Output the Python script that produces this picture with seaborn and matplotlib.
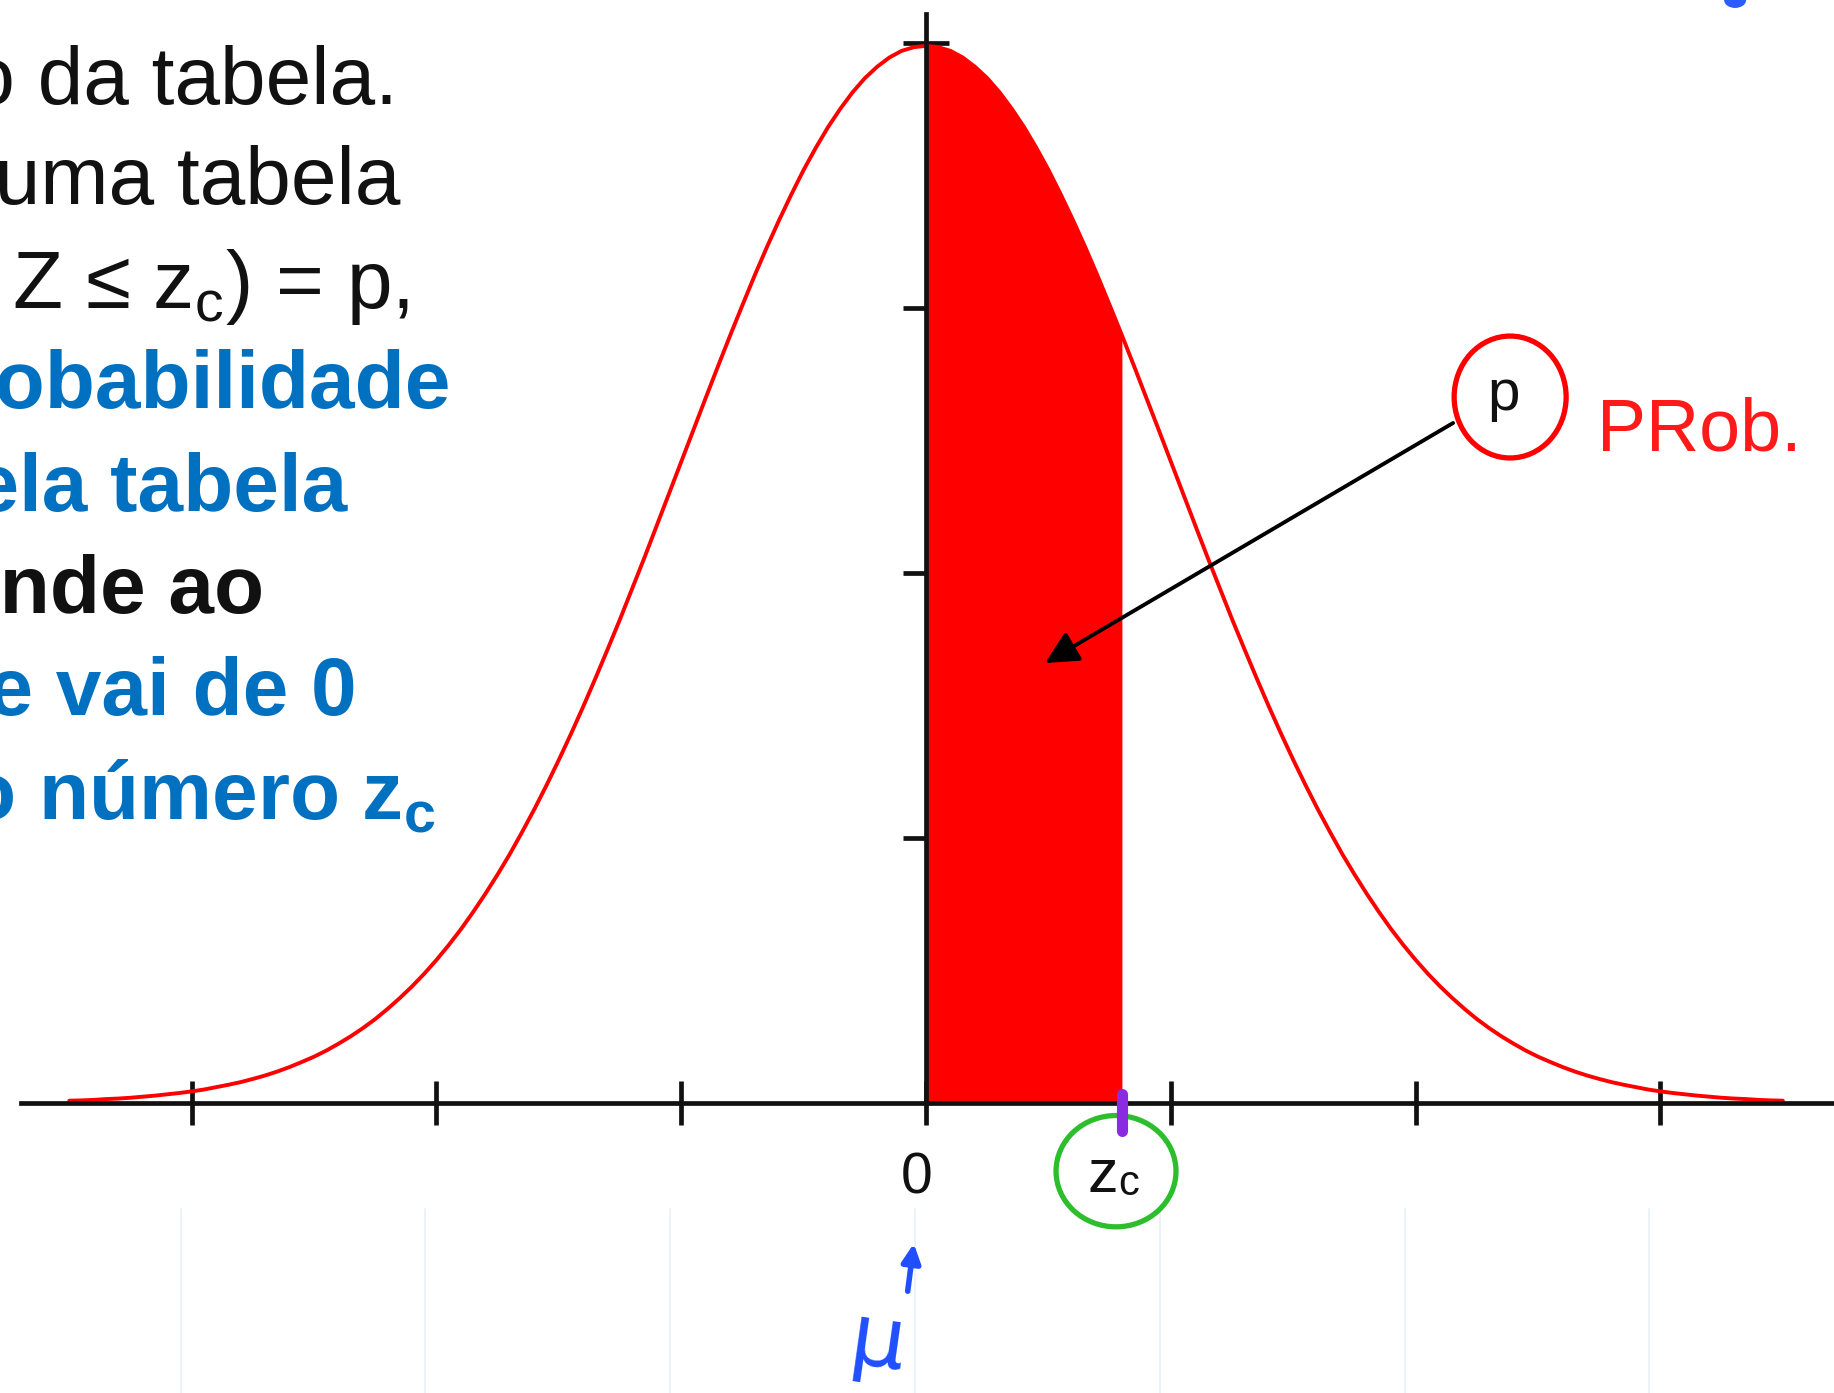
import numpy as np
import matplotlib
matplotlib.use("Agg")
import matplotlib.pyplot as plt
from matplotlib.patches import Ellipse
import seaborn as sns

# standard normal curve, heights read at every 0.05 from 0 to 3.5 (mirrored for the left side)
z_grid = np.round(np.arange(-3.5, 3.501, 0.05), 2)
dens_right = [0.3989, 0.3984, 0.3970, 0.3945, 0.3910, 0.3867, 0.3814, 0.3752,
              0.3683, 0.3605, 0.3521, 0.3429, 0.3332, 0.3230, 0.3123, 0.3011,
              0.2897, 0.2780, 0.2661, 0.2541, 0.2420, 0.2299, 0.2179, 0.2059,
              0.1942, 0.1826, 0.1714, 0.1604, 0.1497, 0.1394, 0.1295, 0.1200,
              0.1109, 0.1023, 0.0940, 0.0863, 0.0790, 0.0721, 0.0656, 0.0596,
              0.0540, 0.0488, 0.0440, 0.0396, 0.0355, 0.0317, 0.0283, 0.0252,
              0.0224, 0.0198, 0.0175, 0.0155, 0.0136, 0.0119, 0.0104, 0.0091,
              0.0079, 0.0069, 0.0060, 0.0051, 0.0044, 0.0038, 0.0033, 0.0028,
              0.0024, 0.0020, 0.0017, 0.0015, 0.0012, 0.0010, 0.0009]
density = np.array(dens_right[:0:-1] + dens_right)

z_c = 0.8
x_ticks = [-3, -2, -1, 0, 1, 2, 3]
y_ticks = [0.1, 0.2, 0.3, 0.4]

# slide text (cut at the left edge like the screenshot)
lines = ["Uso da tabela.",
         "Em geral, usaremos uma tabela",
         "P(0 ≤ Z ≤ z$_\\mathregular{c}$) = p,",
         "onde p é a probabilidade",
         "fornecida pela tabela",
         "e corresponde ao",
         "valor da área que vai de 0",
         "ao número z$_\\mathregular{c}$"]
line_colors = ["#111111", "#111111", "#111111", "#0070c0",
               "#0070c0", "#111111", "#0070c0", "#0070c0"]
line_weights = ["normal", "normal", "normal", "bold",
                "bold", "bold", "bold", "bold"]
line_right = [398, 400, 409, 450, 347, 264, 357, 436]
line_base = [104, 204, 308, 408, 511, 613, 715, 819]

sns.set_theme(style="white")
plt.rcParams["font.family"] = ["Liberation Sans", "DejaVu Sans"]
plt.rcParams["mathtext.fontset"] = "custom"
plt.rcParams["mathtext.rm"] = "Liberation Sans"

W, H = 1834, 1393
fig = plt.figure(figsize=(W / 100, H / 100), dpi=100)
ax = fig.add_axes([0, 0, 1, 1])
ax.set_facecolor("white")

sns.lineplot(x=z_grid, y=density, color="#ff0000", lw=2.8, ax=ax, zorder=3)
mask = (z_grid >= 0) & (z_grid <= z_c + 1e-9)
ax.fill_between(z_grid[mask], density[mask], color="#ff0000", lw=0, zorder=3)

ax.set_xlim(-3.783, 3.709)
ax.set_ylim(-0.1094, 0.4162)

for s in ["top", "right"]:
    ax.spines[s].set_visible(False)
ax.spines["left"].set_position(("data", 0))
ax.spines["bottom"].set_position(("data", 0))
ax.spines["left"].set_bounds(0, 0.411)
ax.spines["bottom"].set_bounds(-3.697, 3.709)
for s in ["left", "bottom"]:
    ax.spines[s].set_linewidth(3.4)
    ax.spines[s].set_color("#111111")
    ax.spines[s].set_zorder(5)

ax.set_xticks(x_ticks)
ax.set_yticks(y_ticks)
ax.tick_params(axis="x", direction="inout", length=32, width=3.4,
               color="#111111", labelbottom=False, bottom=True)
ax.tick_params(axis="y", direction="inout", length=33, width=3.4,
               color="#111111", labelleft=False, left=True)
ax.grid(False)

# faint guide lines below the axis
for t in x_ticks:
    ax.plot([t - 0.045, t - 0.045], [-0.04, -0.11], color="#e8f0f7", lw=1.2, zorder=1)

# axis labels 0 and z_c
ax.text(-0.04, -0.0283, "0", fontsize=41, ha="center", va="center", color="#111111")
ax.text(z_c - 0.142, -0.0336, "z", fontsize=44, ha="left", va="baseline", color="#111111")
ax.text(z_c - 0.016, -0.0347, "c", fontsize=30, ha="left", va="baseline", color="#111111")

# hand annotations
ax.add_patch(Ellipse((z_c - 0.024, -0.0257), 0.49, 0.042, fill=False,
                     ec="#2dbe2d", lw=3.8, zorder=6))
ax.plot([z_c, z_c], [0.0034, -0.0105], color="#8a2be2", lw=8,
        solid_capstyle="round", zorder=7)

ax.add_patch(Ellipse((2.386, 0.2664), 0.4575, 0.046, fill=False,
                     ec="#ff0000", lw=3.8, zorder=6))
ax.text(2.361, 0.2615, "p", fontsize=42, ha="center", va="baseline", color="#111111")
ax.text(2.74, 0.2464, "PRob.", fontsize=53, ha="left", va="baseline",
        color="#ff1a1a")
ax.annotate("", xy=(0.486, 0.166), xytext=(2.153, 0.2566),
            arrowprops=dict(arrowstyle="-|>", lw=2.8, color="black",
                            mutation_scale=50, shrinkA=0, shrinkB=0),
            zorder=8)

# blue mu under the mean
ax.annotate("", xy=(-0.05, -0.053), xytext=(-0.075, -0.071),
            arrowprops=dict(arrowstyle="-|>", lw=4, color="#1f4fff",
                            mutation_scale=28, shrinkA=0, shrinkB=0))
ax.text(-0.2, -0.1008, "μ", fontsize=62, ha="center", va="baseline",
        color="#1f4fff", family="DejaVu Sans", rotation=-8)

# stray pen dot at the top edge
ax.add_patch(Ellipse((3.305, 0.4162), 0.09, 0.006, color="#2a5cff", lw=0, zorder=6))

# slide text
for txt, col, wt, xr, yb in zip(lines, line_colors, line_weights, line_right, line_base):
    fig.text(xr / W, 1 - yb / H, txt, fontsize=59, color=col, fontweight=wt,
             ha="right", va="baseline")

fig.savefig("out.png", dpi=100, facecolor="white")
